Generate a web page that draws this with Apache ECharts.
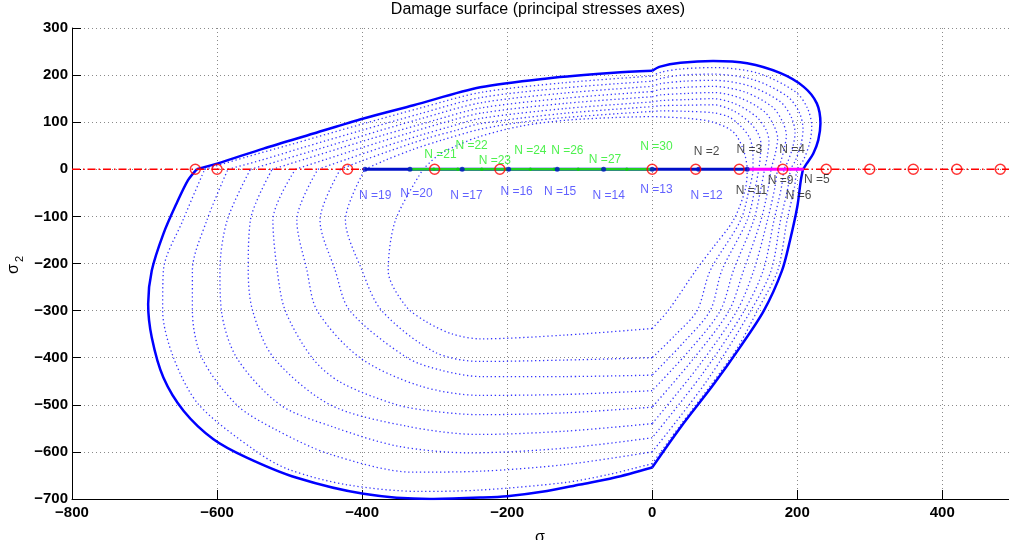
<!DOCTYPE html>
<html><head><meta charset="utf-8">
<script src="https://cdn.jsdelivr.net/npm/echarts/dist/echarts.min.js"></script>
<style>html,body{margin:0;padding:0;background:#fff}#c{width:1009px;height:540px}</style>
</head><body><div id="c"></div>
<script>
// ---------- outer damage surface (solid) ----------
const outerTop = [[-628,0],[-600,12],[-536,44],[-467,76],[-398,108],[-329,136],[-237,174],[-145,193],[-53,205],[0,209]];
const outerRightUp = [[0,209],[11,218],[39,226],[84,230],[131,225],[177,204],[209,175],[227,140],[232,97],[229,62],[222,33],[213,12],[208,0]];
const outerRightDown = [[208,0],[205,-23],[200,-80],[190,-151],[179,-215],[154,-300],[121,-378],[85,-456],[39,-548],[0,-633]];
const outerBottom = [[0,-633],[-53,-655],[-99,-669],[-145,-683],[-200,-694],[-237,-697],[-306,-700],[-398,-689],[-490,-655],[-559,-612],[-605,-573],[-646,-513],[-674,-442],[-690,-357],[-695,-286],[-690,-215],[-674,-137],[-656,-73],[-640,-23],[-628,0]];

// ---------- earlier surfaces (dotted), outermost c1 to innermost c9 ----------
const c1Top = [[-617,0],[-560,26],[-500,52],[-400,96],[-320,130],[-237,163],[-120,184],[0,198]];
const c1Right = [[0,198],[12,206],[40,213],[84,216],[146,204],[198,164],[214,130],[220,91],[217,55],[208,18],[200,0],[196,-40],[186,-108],[173,-215],[145,-300],[118,-378],[82,-456],[38,-545],[0,-625]];
const c1Bottom = [[0,-625],[-60,-648],[-120,-665],[-237,-681],[-320,-684],[-420,-670],[-500,-638],[-545,-600],[-625,-500],[-660,-400],[-675,-300],[-674,-215],[-647,-108],[-617,0]];

const c2Top = [[-585,0],[-540,19],[-480,47],[-400,83],[-320,118],[-237,152],[-120,173],[0,187]];
const c2Right = [[0,187],[12,193],[42,200],[84,202],[140,190],[187,154],[203,120],[208,85],[205,52],[197,17],[191,0],[187,-40],[177,-108],[164,-215],[136,-300],[75,-450],[0,-600]];
const c2Bottom = [[0,-600],[-120,-627],[-237,-641],[-330,-643],[-444,-605],[-520,-552],[-573,-500],[-621,-400],[-634,-300],[-634,-215],[-614,-108],[-585,0]];

const c3Top = [[-554,0],[-510,20],[-460,43],[-400,71],[-320,107],[-237,141],[-120,162],[0,176]];
const c3Right = [[0,176],[12,182],[44,187],[84,189],[134,177],[177,143],[192,110],[197,78],[194,48],[187,16],[182,0],[178,-40],[168,-108],[153,-215],[127,-300],[69,-435],[0,-570]];
const c3Bottom = [[0,-570],[-120,-592],[-250,-602],[-350,-588],[-440,-547],[-513,-500],[-573,-400],[-594,-300],[-596,-215],[-586,-108],[-554,0]];

const c4Top = [[-524,0],[-480,21],[-430,45],[-370,73],[-300,104],[-237,130],[-120,151],[0,165]];
const c4Right = [[0,165],[12,170],[45,174],[84,176],[128,164],[166,132],[180,100],[185,72],[182,44],[177,15],[173,0],[169,-40],[159,-108],[140,-215],[117,-300],[63,-420],[0,-540]];
const c4Bottom = [[0,-540],[-120,-556],[-240,-563],[-340,-545],[-444,-500],[-522,-400],[-551,-300],[-557,-215],[-554,-108],[-524,0]];

const c5Top = [[-492,0],[-450,21],[-400,46],[-340,75],[-290,98],[-237,119],[-120,140],[0,154]];
const c5Right = [[0,154],[12,158],[46,161],[84,163],[122,151],[155,122],[168,92],[173,66],[170,35],[164,0],[160,-40],[150,-108],[126,-215],[106,-300],[57,-402],[0,-505]];
const c5Bottom = [[0,-505],[-120,-517],[-237,-521],[-300,-514],[-352,-500],[-430,-452],[-469,-400],[-506,-300],[-517,-215],[-523,-108],[-492,0]];

const c6Top = [[-461,0],[-420,22],[-370,48],[-320,72],[-280,90],[-237,108],[-120,129],[0,143]];
const c6Right = [[0,143],[12,146],[47,148],[84,150],[116,138],[144,111],[157,84],[161,59],[159,30],[155,0],[150,-40],[140,-108],[112,-215],[94,-300],[51,-385],[0,-470]];
const c6Bottom = [[0,-470],[-120,-478],[-237,-480],[-320,-460],[-403,-400],[-462,-300],[-476,-215],[-490,-108],[-461,0]];

const c7Top = [[-430,0],[-400,18],[-360,40],[-310,66],[-270,83],[-237,97],[-120,119],[0,133]];
const c7Right = [[0,133],[12,135],[48,136],[84,137],[111,125],[134,100],[146,76],[150,53],[149,25],[147,0],[142,-40],[131,-108],[96,-215],[80,-300],[43,-368],[0,-437]];
const c7Bottom = [[0,-437],[-120,-440],[-237,-440],[-290,-427],[-338,-400],[-417,-300],[-437,-215],[-458,-108],[-430,0]];

const c8Top = [[-396,0],[-370,18],[-330,42],[-290,62],[-237,85],[-180,100],[-120,110],[0,123]];
const c8Right = [[0,123],[12,124],[48,123],[84,120],[106,111],[123,90],[134,68],[138,47],[139,22],[139,0],[134,-40],[122,-108],[80,-215],[62,-300],[33,-350],[0,-400]];
const c8Bottom = [[0,-400],[-120,-405],[-237,-408],[-300,-388],[-373,-300],[-400,-215],[-423,-108],[-396,0]];

const c9Top = [[-316,0],[-295,30],[-270,50],[-237,70],[-180,92],[-120,104],[-50,110],[0,112]];
const c9Right = [[0,112],[50,108],[84,100],[112,79],[126,40],[131,-2],[128,-45],[112,-108],[84,-166],[60,-215],[22,-300],[0,-338]];
const c9Bottom = [[0,-338],[-120,-352],[-237,-360],[-275,-350],[-310,-325],[-340,-290],[-364,-215],[-354,-108],[-316,0]];

// ---------- loading path on sigma2 = 0 ----------
const refLine = [[-800,0],[492,0]];
const redCirclesX = [-630,-600,-420,-300,-210,0,60,120,180,240,300,360,420,480];
const bluePathX = [-396,-334,-262,-198,-131,-67,0,64,131];
const greenPathX = [-334,-301,-268,-235,-201,-168,-135,-102,-68,-35,0];
const magentaPathX = [131,209];

const blueLabels = ['N =19','N =20','N =17','N =16','N =15','N =14','N =13','N =12'];
const blueLabelX = [-382,-325,-256,-187,-127,-60,6,75];
const blueLabelY = [-57,-52,-57,-48,-47,-57,-43,-55];
const greenLabels = ['N =21','N =22','N =23','N =24','N =26','N =27','N =30'];
const greenLabelX = [-292,-249,-217,-168,-117,-65,6];
const greenLabelY = [30,51,19,39,39,21,47];
const blackLabels = ['N =2','N =3','N =4','N =9','N =11','N =6','N =5'];
const blackLabelX = [75,134,193,177,137,202,227];
const blackLabelY = [37,42,42,-25,-45,-57,-22];

const xTicks = {min:-800, max:492, interval:200};
const yTicks = {min:-700, max:300, interval:100};

// ---------- build ----------
const FONT = 'Liberation Sans, Arial, Helvetica, sans-serif';
const series = [];
const dotted = [c1Top,c1Right,c1Bottom,c2Top,c2Right,c2Bottom,c3Top,c3Right,c3Bottom,c4Top,c4Right,c4Bottom,
  c5Top,c5Right,c5Bottom,c6Top,c6Right,c6Bottom,c7Top,c7Right,c7Bottom,c8Top,c8Right,c8Bottom,c9Top,c9Right,c9Bottom];
dotted.forEach(d => series.push({type:'line', data:d, symbol:'none', smooth:0.3, silent:true,
  lineStyle:{color:'#3535ff', width:1.3, type:[1.3,2.7]}, z:2}));
[outerTop, outerRightUp, outerRightDown, outerBottom].forEach(d => series.push({type:'line', data:d, symbol:'none', smooth:0.3,
  lineStyle:{color:'#0000ff', width:2.5}, z:3}));
series.push({type:'line', data:refLine, symbol:'none', lineStyle:{color:'#ff0000', width:1.5, type:[8,3,1.5,3]}, z:4});
series.push({type:'line', data:[[bluePathX[0],0],[bluePathX[bluePathX.length-1],0]], symbol:'none', lineStyle:{color:'#0010c8', width:3}, z:5});
series.push({type:'line', data:greenPathX.map(x=>[x,0]), symbol:'circle', symbolSize:3.5, itemStyle:{color:'#10d010'}, lineStyle:{color:'#20d020', width:2.5}, z:6});
series.push({type:'line', data:magentaPathX.map(x=>[x,0]), symbol:'none', lineStyle:{color:'#ff00ff', width:3}, z:6});
series.push({type:'scatter', data:bluePathX.map(x=>[x,0]), symbol:'circle', symbolSize:5, itemStyle:{color:'#0010c8'}, z:7});
series.push({type:'scatter', data:redCirclesX.map(x=>[x,0]), symbol:'circle', symbolSize:10,
  itemStyle:{color:'rgba(0,0,0,0)', borderColor:'#ff0000', borderWidth:1.5}, z:8});
function labelSeries(names, xs, ys, color){
  return {type:'scatter', symbolSize:0, z:9, silent:true,
    data:names.map((n,i)=>({name:n, value:[xs[i], ys[i]]})),
    label:{show:true, position:'inside', formatter:'{b}', color:color, fontSize:12, fontFamily:FONT}};
}
series.push(labelSeries(blueLabels, blueLabelX, blueLabelY, '#3a3aff'));
series.push(labelSeries(greenLabels, greenLabelX, greenLabelY, '#22ee22'));
series.push(labelSeries(blackLabels, blackLabelX, blackLabelY, '#1a1a1a'));

const fmt = v => (v < 0 ? '\u2212' + Math.abs(v) : String(v));
const chart = echarts.init(document.getElementById('c'), null, {renderer:'canvas'});
chart.setOption({
  animation:false,
  backgroundColor:'#fff',
  grid:{left:72, top:28, right:0, bottom:41, containLabel:false},
  xAxis:{type:'value', min:xTicks.min, max:xTicks.max, interval:xTicks.interval,
    axisLine:{show:true, onZero:false, lineStyle:{color:'#000', width:1}},
    axisTick:{show:true, inside:true, length:9, lineStyle:{color:'#000'}},
    axisLabel:{formatter:fmt, color:'#000', fontSize:15, fontWeight:'bold', fontFamily:FONT, margin:6, showMaxLabel:false},
    splitLine:{show:true, lineStyle:{color:'#8a8a8a', width:1, type:[1,3]}}},
  yAxis:{type:'value', min:yTicks.min, max:yTicks.max, interval:yTicks.interval,
    axisLine:{show:true, onZero:false, lineStyle:{color:'#000', width:1}},
    axisTick:{show:true, inside:true, length:9, lineStyle:{color:'#000'}},
    axisLabel:{formatter:fmt, color:'#000', fontSize:15, fontWeight:'bold', fontFamily:FONT, margin:4},
    splitLine:{show:true, lineStyle:{color:'#8a8a8a', width:1, type:[1,3]}}},
  graphic:[
    {type:'text', x:538, y:10, style:{text:'Damage surface (principal stresses axes)', fill:'#000', font:'16px ' + FONT, align:'center', verticalAlign:'middle'}},
    {type:'text', x:540, y:538, style:{text:'\u03c3', fill:'#000', font:'16px ' + FONT, align:'center', verticalAlign:'middle'}},
    {type:'text', x:14, y:269, rotation:Math.PI/2, style:{text:'\u03c3', fill:'#000', font:'16px ' + FONT, align:'center', verticalAlign:'middle'}},
    {type:'text', x:20, y:259, rotation:Math.PI/2, style:{text:'2', fill:'#000', font:'11px ' + FONT, align:'center', verticalAlign:'middle'}}
  ],
  series:series
});
</script></body></html>
